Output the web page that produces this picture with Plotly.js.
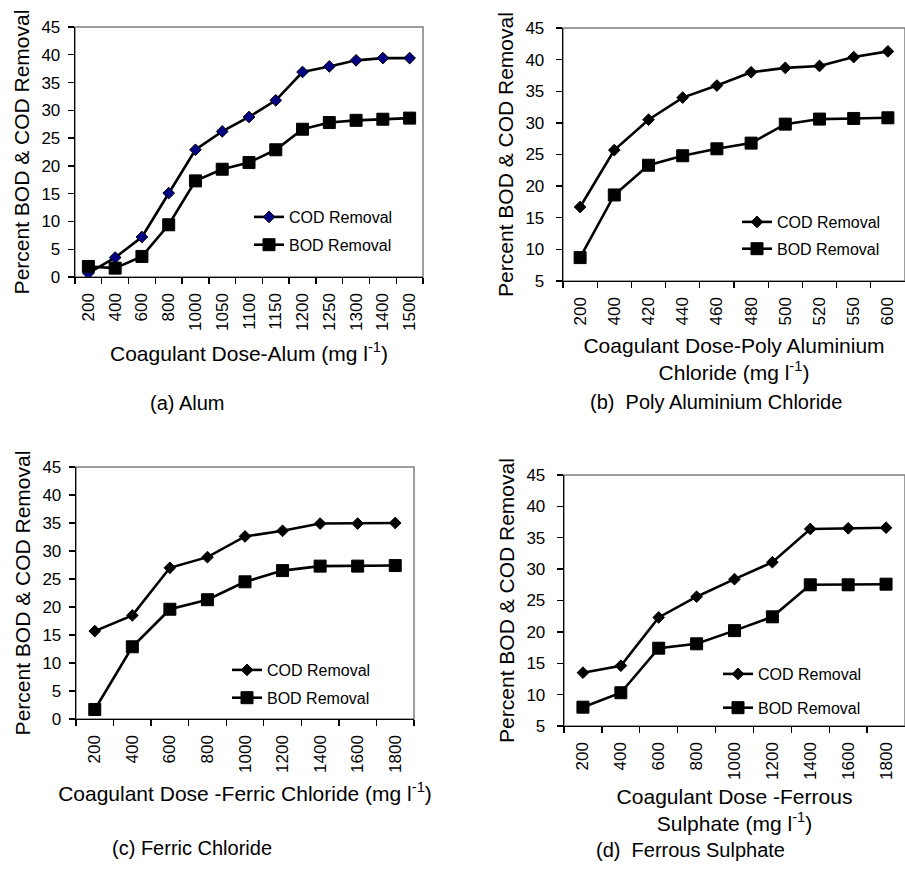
<!DOCTYPE html>
<html>
<head>
<meta charset="utf-8">
<script src="https://cdn.plot.ly/plotly-3.0.1.min.js"></script>
<style>html,body{margin:0;padding:0;background:#fff;}#chart{width:905px;height:876px;}</style>
</head>
<body>
<div id="chart"></div>
<script>
// ---- data ----
const alumDose = ['200','400','600','800','1000','1050','1100','1150','1200','1250','1300','1400','1500'];
const alumCOD  = [0.7,3.5,7.2,15.1,22.9,26.2,28.8,31.8,36.9,37.9,39.0,39.4,39.4];
const alumBOD  = [1.9,1.6,3.7,9.4,17.3,19.4,20.6,22.9,26.6,27.8,28.2,28.4,28.6];

const pacDose = ['200','400','420','440','460','480','500','520','550','600'];
const pacCOD  = [16.7,25.7,30.5,34.0,35.9,38.0,38.7,39.0,40.4,41.3];
const pacBOD  = [8.7,18.6,23.3,24.8,25.9,26.8,29.8,30.6,30.7,30.8];

const ferricDose = ['200','400','600','800','1000','1200','1400','1600','1800'];
const ferricCOD  = [15.7,18.5,27.0,28.9,32.6,33.6,34.9,34.9,35.0];
const ferricBOD  = [1.7,12.9,19.6,21.3,24.5,26.5,27.3,27.3,27.4];

const ferrousDose = ['200','400','600','800','1000','1200','1400','1600','1800'];
const ferrousCOD  = [13.5,14.6,22.3,25.6,28.4,31.1,36.4,36.5,36.6];
const ferrousBOD  = [8.0,10.3,17.4,18.1,20.2,22.4,27.5,27.5,27.6];

const seriesNames = ['COD Removal','BOD Removal'];
const yTitle = 'Percent BOD &amp; COD Removal';
const xTitles = [
  'Coagulant Dose-Alum (mg l<sup>-1</sup>)',
  'Coagulant Dose-Poly Aluminium<br>Chloride (mg l<sup>-1</sup>)',
  'Coagulant Dose -Ferric Chloride (mg l<sup>-1</sup>)',
  'Coagulant Dose -Ferrous<br>Sulphate (mg l<sup>-1</sup>)'
];
const captions = ['(a) Alum','(b)  Poly Aluminium Chloride','(c) Ferric Chloride','(d)  Ferrous Sulphate'];

// ---- styling ----
const FONT = 'Liberation Sans, Arial, sans-serif';
const W = 905, H = 876;
const px = v => v / W;
const py = v => 1 - v / H;

const panels = [
  {dose: alumDose, cod: alumCOD, bod: alumBOD, codColor: '#000080', xd: [75, 423], yd: [27, 277], yr: [0, 45], leg: [249, 200], gap: 4},
  {dose: pacDose, cod: pacCOD, bod: pacBOD, codColor: '#000000', xd: [563, 905], yd: [28, 281], yr: [5, 45], leg: [737, 205], gap: 3},
  {dose: ferricDose, cod: ferricCOD, bod: ferricBOD, codColor: '#000000', xd: [76, 414], yd: [467, 719], yr: [0, 45], leg: [227, 653], gap: 4},
  {dose: ferrousDose, cod: ferrousCOD, bod: ferrousBOD, codColor: '#000000', xd: [564, 905], yd: [475, 726], yr: [5, 45], leg: [718, 657], gap: 10}
];

const data = [];
const layout = {
  width: W, height: H,
  margin: {l: 0, r: 0, t: 0, b: 0},
  paper_bgcolor: '#ffffff',
  plot_bgcolor: '#ffffff',
  font: {family: FONT, color: '#000', size: 17},
  showlegend: true,
  shapes: [],
  annotations: []
};

const capPos = [[187, 403], [716, 402], [192, 848], [690, 850]];
const xStandoff = [16, 13, 14, 10];
const yStandoff = [6, 6, 6, 6];

panels.forEach((p, i) => {
  const n = i + 1;
  const xa = n === 1 ? 'x' : 'x' + n;
  const ya = n === 1 ? 'y' : 'y' + n;
  const lg = n === 1 ? 'legend' : 'legend' + n;
  data.push({
    type: 'scatter', mode: 'lines+markers', name: seriesNames[0],
    x: p.dose, y: p.cod, xaxis: xa, yaxis: ya, legend: lg, legendgroup: 'cod' + n,
    line: {color: '#000', width: 2.6},
    marker: {symbol: 'diamond', size: 9, color: p.codColor, line: {color: '#000', width: 1}}
  });
  data.push({
    type: 'scatter', mode: 'lines+markers', name: seriesNames[1],
    x: p.dose, y: p.bod, xaxis: xa, yaxis: ya, legend: lg, legendgroup: 'bod' + n,
    line: {color: '#000', width: 2.6},
    marker: {symbol: 'square', size: 12, color: '#000', line: {color: '#000', width: 1}}
  });
  const xk = n === 1 ? 'xaxis' : 'xaxis' + n;
  const yk = n === 1 ? 'yaxis' : 'yaxis' + n;
  layout[xk] = {
    domain: [px(p.xd[0]), px(p.xd[1])], anchor: ya,
    type: 'category', range: [-0.5, p.dose.length - 0.5],
    tickson: 'boundaries', ticks: 'outside', ticklen: 6, tickwidth: 1.3, tickcolor: '#000',
    tickangle: -90, ticklabelstandoff: 8,
    tickfont: {family: FONT, size: 17, color: '#000'},
    showline: true, linecolor: '#000', linewidth: 1.3,
    showgrid: false, zeroline: false, fixedrange: true, automargin: false,
    title: {text: xTitles[i], font: {family: FONT, size: 21, color: '#000'}, standoff: xStandoff[i]}
  };
  layout[yk] = {
    domain: [py(p.yd[1]), py(p.yd[0])], anchor: xa,
    range: p.yr, dtick: 5, tick0: 0,
    ticks: 'outside', ticklen: 6, tickwidth: 1.3, tickcolor: '#000',
    ticklabelstandoff: (i % 2 === 0) ? 4 : 8,
    tickfont: {family: FONT, size: 17, color: '#000'},
    showline: true, linecolor: '#000', linewidth: 1.3,
    showgrid: false, zeroline: false, fixedrange: true, automargin: false,
    title: {text: yTitle, font: {family: FONT, size: 21, color: '#000'}, standoff: yStandoff[i]}
  };
  layout[lg] = {
    x: px(p.leg[0]), y: py(p.leg[1]), xanchor: 'left', yanchor: 'top',
    bgcolor: 'rgba(0,0,0,0)', borderwidth: 0,
    font: {family: FONT, size: 16, color: '#000'},
    traceorder: 'grouped', tracegroupgap: p.gap
  };
  layout.shapes.push({
    type: 'rect', xref: xa + ' domain', yref: ya + ' domain',
    x0: 0, x1: 1, y0: 0, y1: 1,
    line: {color: '#7f7f7f', width: 1.5}, layer: 'below'
  });
  layout.annotations.push({
    text: captions[i], xref: 'paper', yref: 'paper',
    x: px(capPos[i][0]), y: py(capPos[i][1]), xanchor: 'center', yanchor: 'middle',
    showarrow: false, font: {family: FONT, size: 20, color: '#000'}
  });
});

Plotly.newPlot('chart', data, layout, {staticPlot: true, displayModeBar: false});
</script>
</body>
</html>
